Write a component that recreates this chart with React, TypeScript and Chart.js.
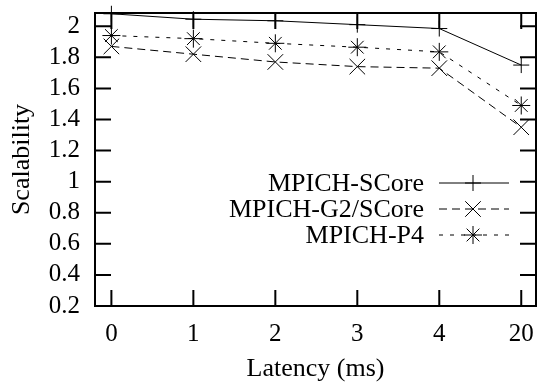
import React, { useEffect, useRef } from "react";
import { Chart, registerables } from "chart.js";

Chart.register(...registerables);

const categories = ["0", "1", "2", "3", "4", "20"];
const scoreVals = [2.08, 2.045, 2.035, 2.01, 1.985, 1.75];
const g2Vals = [1.87, 1.82, 1.77, 1.74, 1.73, 1.35];
const p4Vals = [1.94, 1.92, 1.89, 1.865, 1.835, 1.49];
const seriesLabels = ["MPICH-SCore", "MPICH-G2/SCore", "MPICH-P4"];
const yTicks = { min: 0.2, max: 2.085, step: 0.2 };

const FONT = "Liberation Serif";

function drawMarker(ctx: CanvasRenderingContext2D, style: string, x: number, y: number, r: number) {
  ctx.beginPath();
  const plus = () => {
    ctx.moveTo(x - r, y); ctx.lineTo(x + r, y);
    ctx.moveTo(x, y - r); ctx.lineTo(x, y + r);
  };
  const cross = (d: number) => {
    ctx.moveTo(x - d, y - d); ctx.lineTo(x + d, y + d);
    ctx.moveTo(x - d, y + d); ctx.lineTo(x + d, y - d);
  };
  if (style === "cross") plus();
  else if (style === "crossRot") cross(r * 0.707);
  else { plus(); cross(r * 0.707); }
  ctx.stroke();
}

const framePlugin = {
  id: "frameTicks",
  afterDraw(chart: any) {
    const { ctx, chartArea } = chart;
    const { left, right, top, bottom } = chartArea;
    const xs = chart.scales.x;
    const ys = chart.scales.y;
    const tl = 16;
    ctx.save();
    ctx.strokeStyle = "#000";
    ctx.lineWidth = 2;
    ctx.setLineDash([]);
    ctx.strokeRect(left, top, right - left, bottom - top);
    ctx.beginPath();
    ys.ticks.forEach((t: any) => {
      const py = ys.getPixelForValue(t.value);
      ctx.moveTo(left, py); ctx.lineTo(left + tl, py);
      ctx.moveTo(right, py); ctx.lineTo(right - tl, py);
    });
    xs.ticks.forEach((t: any) => {
      const px = xs.getPixelForValue(t.value);
      ctx.moveTo(px, bottom); ctx.lineTo(px, bottom - tl);
      ctx.moveTo(px, top); ctx.lineTo(px, top + tl);
    });
    ctx.stroke();

    // legend (text left of sample, gnuplot style)
    const textRight = right - 112;
    const lineL = right - 97;
    const lineR = right - 27;
    const markX = right - 63;
    const rowY0 = top + 170;
    const rowH = 26;
    ctx.font = `26px "${FONT}"`;
    ctx.fillStyle = "#000";
    ctx.textAlign = "right";
    ctx.textBaseline = "middle";
    chart.data.datasets.forEach((ds: any, i: number) => {
      const y = rowY0 + i * rowH;
      ctx.fillText(ds.label, textRight, y + 1);
      ctx.lineWidth = 1;
      ctx.setLineDash(ds.borderDash || []);
      ctx.beginPath();
      ctx.moveTo(lineL, y); ctx.lineTo(lineR, y);
      ctx.stroke();
      ctx.setLineDash([]);
      drawMarker(ctx, ds.pointStyle, markX, y, ds.pointRadius);
    });
    ctx.restore();
  },
};

export default function App() {
  const ref = useRef<HTMLCanvasElement>(null);
  useEffect(() => {
    if (!ref.current) return;
    const mk = (vals: number[]) => vals.map((v, i) => ({ x: i, y: v }));
    const chart = new Chart(ref.current, {
      type: "line",
      data: {
        datasets: [
          {
            label: seriesLabels[0],
            data: mk(scoreVals),
            borderColor: "#000",
            borderWidth: 1,
            pointStyle: "cross",
            pointRadius: 8,
            pointBorderColor: "#000",
            pointBorderWidth: 1,
            clip: false,
          },
          {
            label: seriesLabels[1],
            data: mk(g2Vals),
            borderColor: "#000",
            borderWidth: 1,
            borderDash: [8, 5],
            pointStyle: "crossRot",
            pointRadius: 11,
            pointBorderColor: "#000",
            pointBorderWidth: 1,
            clip: false,
          },
          {
            label: seriesLabels[2],
            data: mk(p4Vals),
            borderColor: "#000",
            borderWidth: 1,
            borderDash: [4, 7],
            pointStyle: "star",
            pointRadius: 9,
            pointBorderColor: "#000",
            pointBorderWidth: 1,
            clip: false,
          },
        ] as any,
      },
      options: {
        animation: false,
        responsive: false,
        devicePixelRatio: 1,
        layout: { autoPadding: false, padding: { top: 13, right: 2, left: 0, bottom: 0 } },
        plugins: { legend: { display: false }, tooltip: { enabled: false } },
        scales: {
          x: {
            type: "linear",
            min: -0.2,
            max: 5.18,
            grid: { display: false, drawTicks: false },
            border: { display: false },
            afterFit: (s: any) => { s.height = 81; s.paddingLeft = 0; s.paddingRight = 0; },
            ticks: {
              stepSize: 1,
              includeBounds: false,
              autoSkip: false,
              maxRotation: 0,
              padding: 0,
              color: "#000",
              font: { family: FONT, size: 25, lineHeight: 2.24 },
              callback: (v: any) => categories[Math.round(v)] ?? "",
            },
            title: {
              display: true,
              text: "Latency (ms)",
              color: "#000",
              font: { family: FONT, size: 26 },
              padding: { top: 0, bottom: 2 },
            },
          },
          y: {
            type: "linear",
            min: yTicks.min,
            max: yTicks.max,
            grid: { display: false, drawTicks: false },
            border: { display: false },
            afterFit: (s: any) => { s.width = 95; s.paddingTop = 0; s.paddingBottom = 0; },
            ticks: {
              stepSize: yTicks.step,
              includeBounds: false,
              autoSkip: false,
              padding: 15,
              color: "#000",
              font: { family: FONT, size: 25 },
              callback: (v: any) => String(Number(Number(v).toFixed(1))),
            },
            title: {
              display: true,
              text: "Scalability",
              color: "#000",
              font: { family: FONT, size: 26 },
              padding: { top: 7, bottom: 0 },
            },
          },
        },
      },
      plugins: [framePlugin],
    });
    return () => chart.destroy();
  }, []);
  return (
    <div style={{ position: "fixed", left: 0, top: 0, width: 538, height: 387, background: "#fff" }}>
      <canvas ref={ref} width={538} height={387} style={{ display: "block" }} />
    </div>
  );
}
